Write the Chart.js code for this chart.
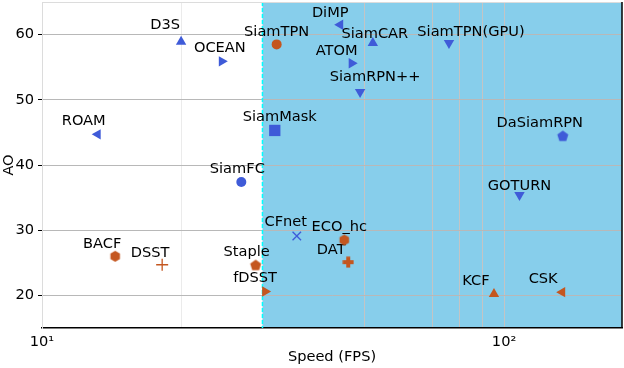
<!DOCTYPE html>
<html>
<head>
<meta charset="utf-8">
<script src="https://cdn.jsdelivr.net/npm/chart.js@4.4.1/dist/chart.umd.min.js"></script>
<style>
  html, body { margin: 0; padding: 0; background: #fff; }
</style>
</head>
<body>
<canvas id="graficoTracker" width="624" height="368"></canvas>
<script>
// dati: velocita' (FPS, scala log) e AO
const trackers = ['D3S', 'OCEAN', 'ROAM', 'SiamTPN', 'SiamMask', 'SiamFC', 'DiMP', 'SiamCAR',
                  'ATOM', 'SiamRPN++', 'SiamTPN(GPU)', 'DaSiamRPN', 'GOTURN', 'CFnet', 'ECO_hc',
                  'DAT', 'KCF', 'CSK', 'BACF', 'DSST', 'Staple', 'fDSST'];
const fps = [20.0, 24.5, 13.2, 32.2, 31.9, 27.0, 44.2, 52.0,
             46.8, 48.8, 76.0, 134, 108, 35.6, 45.1,
             46.0, 95.1, 133.6, 14.4, 18.2, 29.0, 30.4];
const ao = [58.9, 55.9, 44.7, 58.5, 45.3, 37.4, 61.5, 58.7,
            55.6, 51.2, 58.7, 44.4, 35.4, 29.1, 28.5,
            25.1, 20.2, 20.5, 26.0, 24.7, 24.6, 20.6];
const xTicks = [10, 20, 30, 40, 50, 60, 70, 80, 90, 100];
const xLabels = {10: '10\u00b9', 100: '10\u00b2'};
const yTicks = [20, 30, 40, 50, 60];
const realTime = 30;

const BLU = '#3f5bd8';
const ARA = '#c4561f';
const FONT = '"DejaVu Sans", sans-serif';
const FS = 14.6;

function forma(size, draw) {
    const c = document.createElement('canvas');
    c.width = size; c.height = size;
    const g = c.getContext('2d');
    draw(g, size / 2);
    return c;
}
function poligono(n, r, color) {
    return forma(Math.ceil(r * 2) + 2, function (g, m) {
        g.fillStyle = color;
        g.beginPath();
        for (let k = 0; k < n; k++) {
            const a = -Math.PI / 2 + k * 2 * Math.PI / n;
            g.lineTo(m + r * Math.cos(a), m + r * Math.sin(a));
        }
        g.closePath();
        g.fill();
    });
}
function piuPieno(color) {
    return forma(12, function (g, m) {
        g.fillStyle = color;
        g.fillRect(m - 2, m - 5.5, 4, 11);
        g.fillRect(m - 5.5, m - 2, 11, 4);
    });
}

// stile marker: [pointStyle, rotazione, colore, raggio]
const marker = {
    'D3S': ['triangle', 0, BLU, 6],
    'OCEAN': ['triangle', 90, BLU, 6],
    'ROAM': ['triangle', 270, BLU, 6],
    'SiamTPN': ['circle', 0, ARA, 5],
    'SiamMask': ['rect', 0, BLU, 8],
    'SiamFC': ['circle', 0, BLU, 5],
    'DiMP': ['triangle', 270, BLU, 6],
    'SiamCAR': ['triangle', 0, BLU, 6],
    'ATOM': ['triangle', 90, BLU, 6],
    'SiamRPN++': ['triangle', 180, BLU, 6],
    'SiamTPN(GPU)': ['triangle', 180, BLU, 6],
    'DaSiamRPN': [poligono(5, 5.8, BLU), 0, BLU, 6],
    'GOTURN': ['triangle', 180, BLU, 6],
    'CFnet': ['crossRot', 0, BLU, 6],
    'ECO_hc': [poligono(6, 5.5, ARA), 0, ARA, 6],
    'DAT': [piuPieno(ARA), 0, ARA, 6],
    'KCF': ['triangle', 0, ARA, 6],
    'CSK': ['triangle', 270, ARA, 6],
    'BACF': [poligono(6, 5.5, ARA), 0, ARA, 6],
    'DSST': ['cross', 0, ARA, 6],
    'Staple': [poligono(5, 5.8, ARA), 0, ARA, 6],
    'fDSST': ['triangle', 90, ARA, 6]
};

// spostamento delle etichette rispetto al marker
const etichetta = {
    'D3S': [-16, -17], 'OCEAN': [-2, -13], 'ROAM': [-14, -13], 'SiamTPN': [0, -12],
    'SiamMask': [5, -13], 'SiamFC': [-4, -13], 'DiMP': [-10, -12], 'SiamCAR': [2, -9],
    'ATOM': [-15, -12], 'SiamRPN++': [15, -15], 'SiamTPN(GPU)': [22, -11], 'DaSiamRPN': [-23, -13],
    'GOTURN': [0, -9], 'CFnet': [-11, -14], 'ECO_hc': [-5, -13], 'DAT': [-17, -12],
    'KCF': [-18, -13], 'CSK': [-19, -13], 'BACF': [-13, -12], 'DSST': [-12, -12],
    'Staple': [-9, -13], 'fDSST': [-10, -13]
};

const sfondo = {
    id: 'sfondo',
    beforeDraw(chart) {
        const ctx = chart.ctx, a = chart.chartArea;
        const x0 = chart.scales.x.getPixelForValue(realTime);
        ctx.save();
        ctx.fillStyle = '#fff';
        ctx.fillRect(0, 0, chart.width, chart.height);
        ctx.fillStyle = '#87ceeb';
        ctx.fillRect(x0, a.top, a.right - x0, a.bottom - a.top);
        ctx.restore();
    },
    beforeDatasetsDraw(chart) {
        const ctx = chart.ctx, a = chart.chartArea;
        const x0 = chart.scales.x.getPixelForValue(realTime);
        ctx.save();
        ctx.strokeStyle = '#00ffff';
        ctx.lineWidth = 1.5;
        ctx.setLineDash([4, 2]);
        ctx.beginPath();
        ctx.moveTo(x0, a.top);
        ctx.lineTo(x0, a.bottom);
        ctx.stroke();
        ctx.setLineDash([]);
        // etichette sotto ai marker
        ctx.font = FS + 'px ' + FONT;
        ctx.fillStyle = '#000';
        ctx.textAlign = 'center';
        ctx.textBaseline = 'middle';
        for (let i = 0; i < trackers.length; i++) {
            const o = etichetta[trackers[i]];
            ctx.fillText(trackers[i],
                chart.scales.x.getPixelForValue(fps[i]) + o[0],
                chart.scales.y.getPixelForValue(ao[i]) + o[1]);
        }
        ctx.restore();
    },
    afterDraw(chart) {
        const ctx = chart.ctx, a = chart.chartArea;
        ctx.save();
        ctx.strokeStyle = '#dcdcdc';
        ctx.lineWidth = 1;
        ctx.beginPath();
        ctx.moveTo(a.left, a.top + 0.5);
        ctx.lineTo(a.right, a.top + 0.5);
        ctx.stroke();
        ctx.strokeStyle = '#000';
        ctx.lineWidth = 1.5;
        ctx.beginPath();
        ctx.moveTo(a.right, a.top);
        ctx.lineTo(a.right, a.bottom);
        ctx.stroke();
        ctx.restore();
    }
};

function senzaPadding(s) {
    s.paddingTop = 0; s.paddingBottom = 0;
    s.paddingLeft = 0; s.paddingRight = 0;
}

const ctx = document.getElementById('graficoTracker');
const myChart = new Chart(ctx, {
    type: 'scatter',
    data: {
        datasets: [{
            data: trackers.map((n, i) => ({x: fps[i], y: ao[i]})),
            pointStyle: c => marker[trackers[c.dataIndex]][0],
            rotation: c => marker[trackers[c.dataIndex]][1],
            radius: c => marker[trackers[c.dataIndex]][3],
            backgroundColor: c => marker[trackers[c.dataIndex]][2],
            borderColor: c => marker[trackers[c.dataIndex]][2],
            borderWidth: c => {
                const s = marker[trackers[c.dataIndex]][0];
                return (s === 'cross' || s === 'crossRot') ? 1.3 : 0;
            }
        }]
    },
    options: {
        responsive: false,
        animation: false,
        devicePixelRatio: 1,
        layout: { autoPadding: false, padding: { left: 0, right: 2, top: 2, bottom: 0 } },
        plugins: { legend: { display: false }, tooltip: { enabled: false } },
        scales: {
            x: {
                type: 'logarithmic',
                min: 10,
                max: 180,
                afterBuildTicks: s => { s.ticks = xTicks.map(v => ({value: v})); },
                afterFit: s => { s.height = 40; senzaPadding(s); },
                ticks: {
                    autoSkip: false,
                    maxRotation: 0,
                    padding: 5,
                    color: '#000',
                    font: { family: FONT, size: FS },
                    callback: v => xLabels[v] || ''
                },
                grid: {
                    drawTicks: false,
                    color: c => {
                        const v = c.tick ? c.tick.value : 0;
                        if (v === 20) return '#ebebeb';
                        if ([50, 70, 80, 90, 100].includes(v)) return '#c4c4c4';
                        return 'rgba(0,0,0,0)';
                    }
                },
                border: { display: true, color: '#000', width: 1.5 },
                title: {
                    display: true,
                    text: 'Speed (FPS)',
                    color: '#000',
                    font: { family: FONT, size: FS },
                    padding: { top: 0, bottom: 2 }
                }
            },
            y: {
                min: 15,
                max: 65,
                afterBuildTicks: s => { s.ticks = yTicks.map(v => ({value: v})); },
                afterFit: s => { s.width = 42; senzaPadding(s); },
                ticks: {
                    padding: 4,
                    color: '#000',
                    font: { family: FONT, size: FS }
                },
                grid: {
                    color: '#b8b8b8',
                    tickColor: '#000',
                    tickLength: 4
                },
                border: { display: true, color: '#dcdcdc', width: 1 },
                title: {
                    display: true,
                    text: 'AO',
                    color: '#000',
                    font: { family: FONT, size: FS },
                    padding: { top: 0, bottom: 0 }
                }
            }
        }
    },
    plugins: [sfondo]
});
</script>
</body>
</html>
